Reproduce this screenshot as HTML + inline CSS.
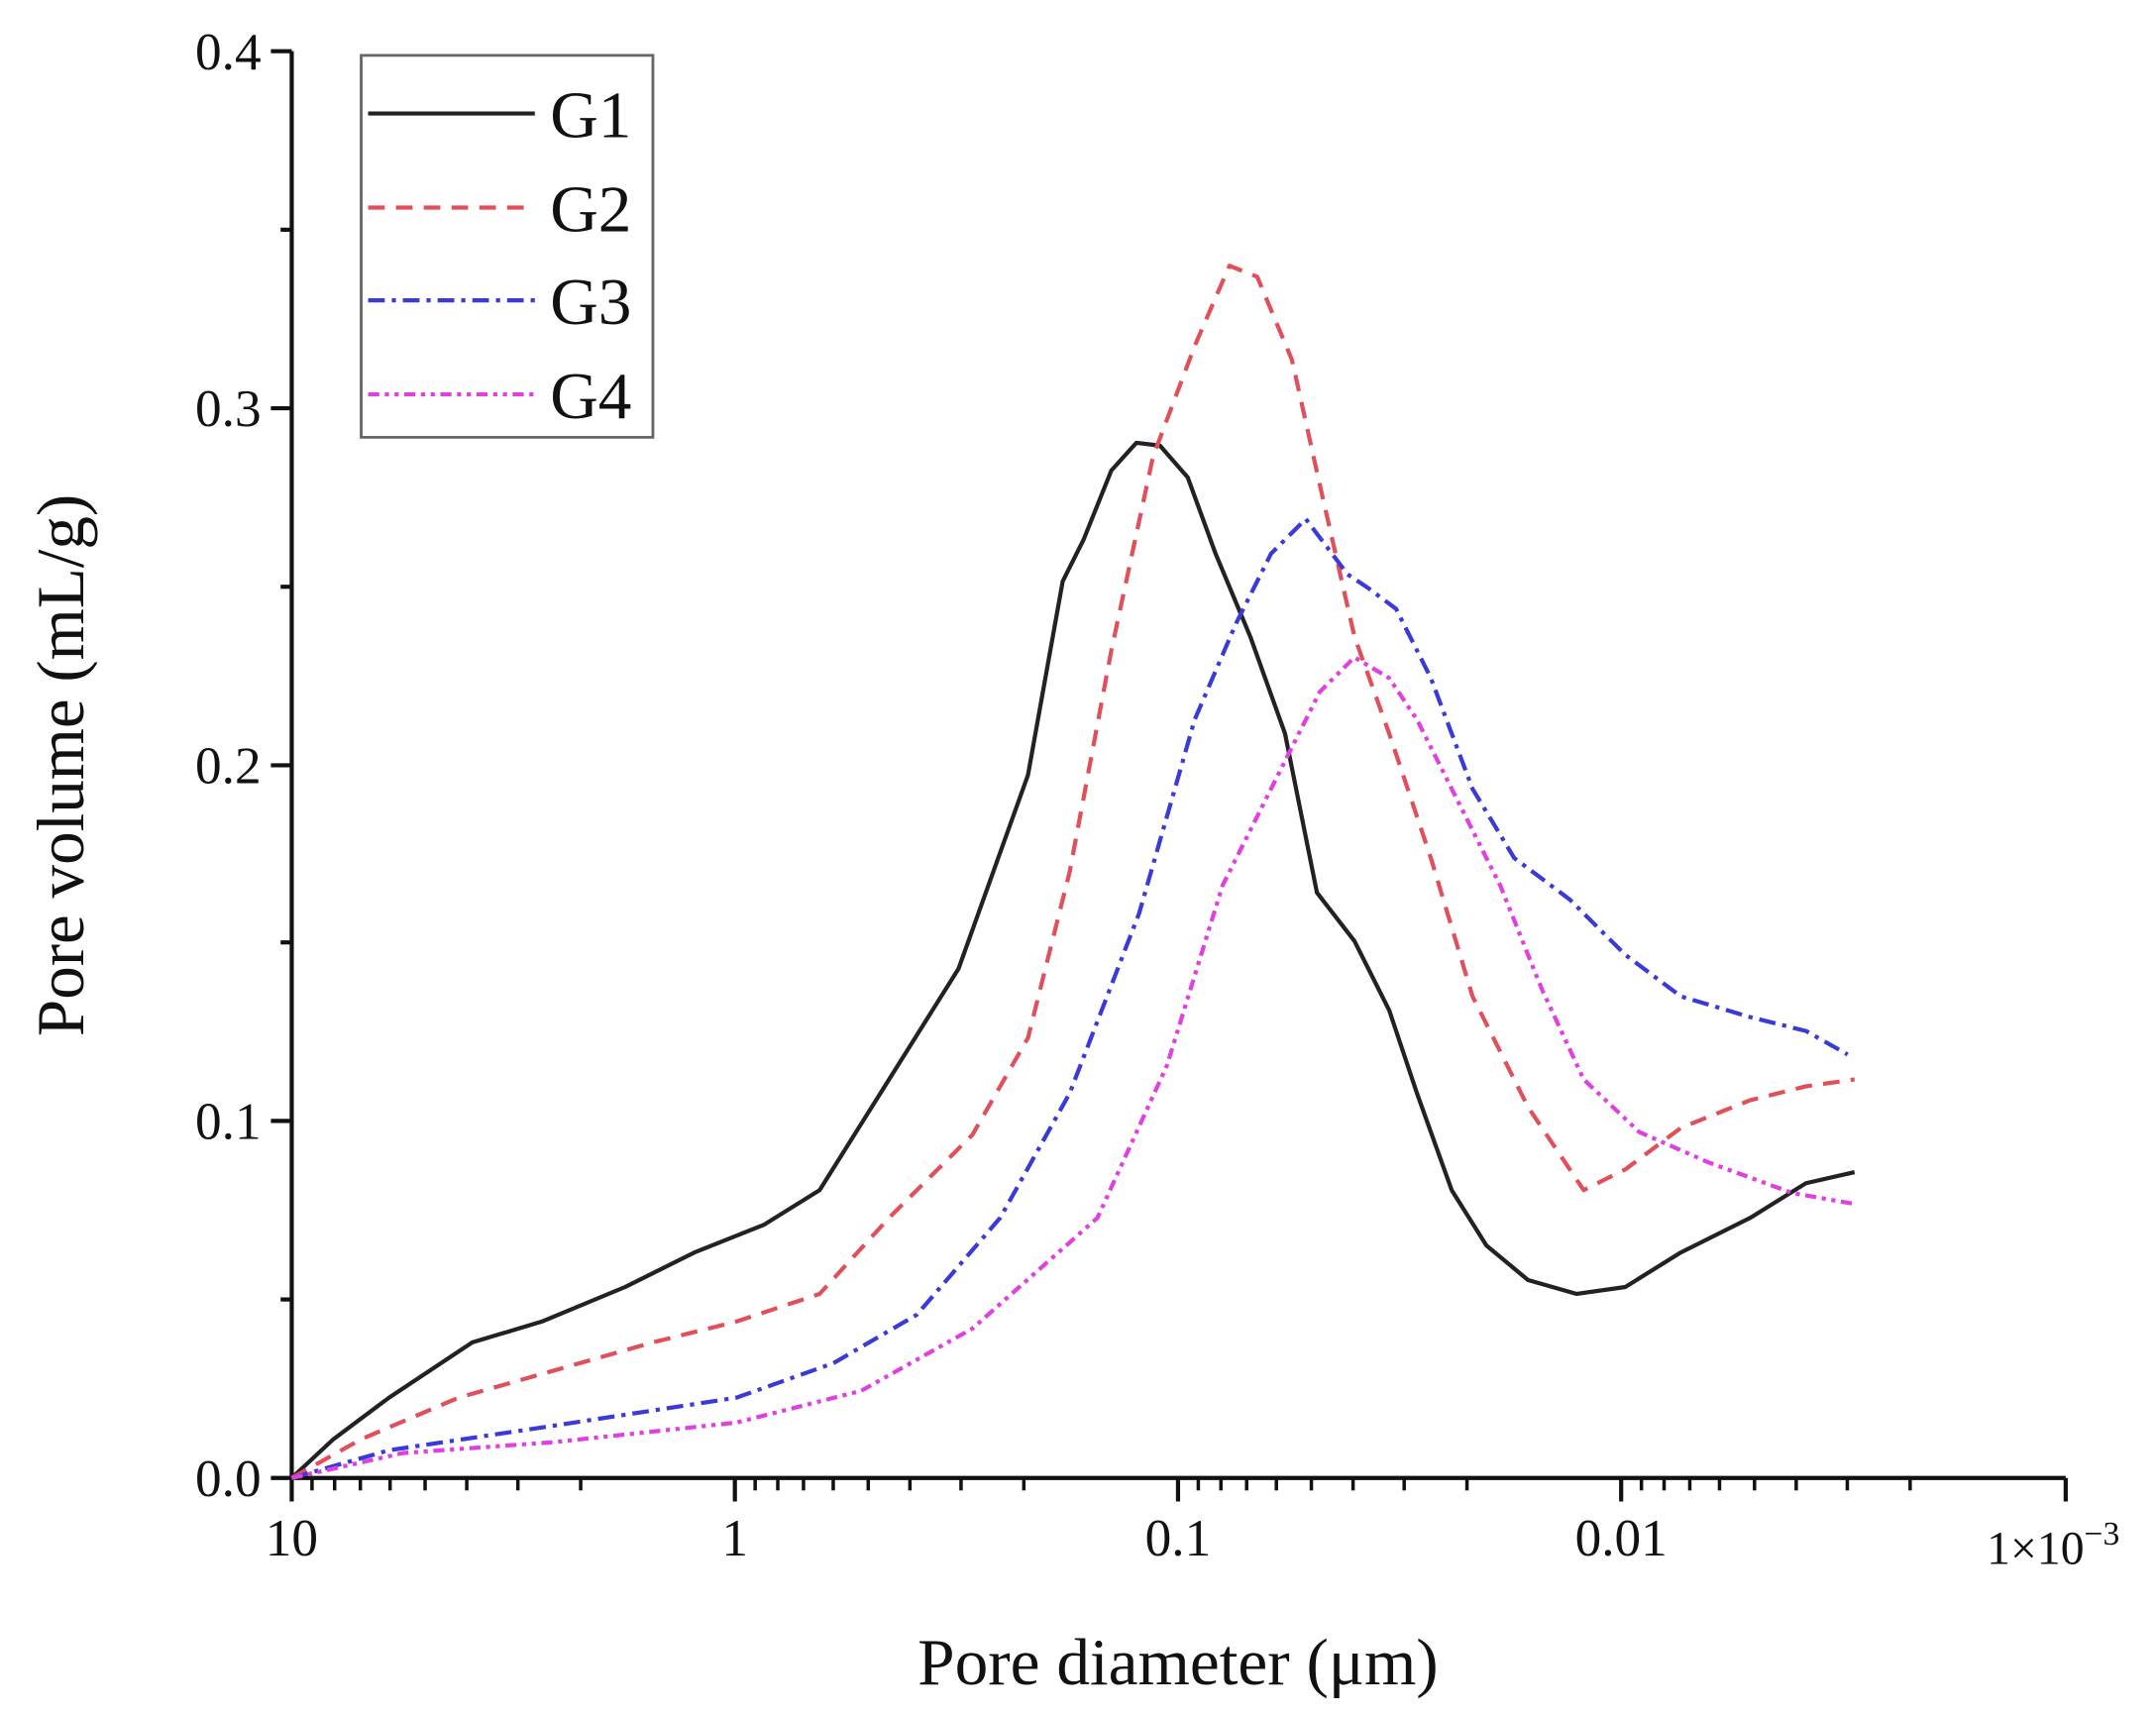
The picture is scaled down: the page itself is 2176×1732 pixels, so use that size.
<!DOCTYPE html>
<html><head><meta charset="utf-8"><style>
html,body{margin:0;padding:0;background:#fff;}
svg{display:block;}
text{font-family:"Liberation Serif",serif;fill:#111;}
</style></head><body>
<svg width="2176" height="1732" viewBox="0 0 1552 1240" preserveAspectRatio="none" xmlns="http://www.w3.org/2000/svg">
<g stroke="#111" stroke-width="3" fill="none">
<line x1="210" y1="37" x2="210" y2="1068"/>
<line x1="210" y1="1068" x2="1487" y2="1068"/>
<line x1="195" y1="1068" x2="210" y2="1068"/><line x1="195" y1="810" x2="210" y2="810"/><line x1="195" y1="553" x2="210" y2="553"/><line x1="195" y1="295" x2="210" y2="295"/><line x1="195" y1="37" x2="210" y2="37"/>
<line x1="202" y1="939" x2="210" y2="939"/><line x1="202" y1="681" x2="210" y2="681"/><line x1="202" y1="424" x2="210" y2="424"/><line x1="202" y1="166" x2="210" y2="166"/>
<line x1="210" y1="1068" x2="210" y2="1085"/><line x1="529" y1="1068" x2="529" y2="1085"/><line x1="848" y1="1068" x2="848" y2="1085"/><line x1="1167" y1="1068" x2="1167" y2="1085"/><line x1="1487" y1="1068" x2="1487" y2="1085"/>
</g>
<g stroke="#111" stroke-width="2.5">
<line x1="224.6" y1="1068" x2="224.6" y2="1077"/><line x1="240.9" y1="1068" x2="240.9" y2="1077"/><line x1="259.4" y1="1068" x2="259.4" y2="1077"/><line x1="280.8" y1="1068" x2="280.8" y2="1077"/><line x1="306" y1="1068" x2="306" y2="1077"/><line x1="336" y1="1068" x2="336" y2="1077"/><line x1="372.8" y1="1068" x2="372.8" y2="1077"/><line x1="418" y1="1068" x2="418" y2="1077"/>
<line x1="543.6" y1="1068" x2="543.6" y2="1077"/><line x1="559.9" y1="1068" x2="559.9" y2="1077"/><line x1="578.4" y1="1068" x2="578.4" y2="1077"/><line x1="599.8" y1="1068" x2="599.8" y2="1077"/><line x1="625" y1="1068" x2="625" y2="1077"/><line x1="655" y1="1068" x2="655" y2="1077"/><line x1="691.8" y1="1068" x2="691.8" y2="1077"/><line x1="737" y1="1068" x2="737" y2="1077"/>
<line x1="862.6" y1="1068" x2="862.6" y2="1077"/><line x1="878.9" y1="1068" x2="878.9" y2="1077"/><line x1="897.4" y1="1068" x2="897.4" y2="1077"/><line x1="918.8" y1="1068" x2="918.8" y2="1077"/><line x1="944" y1="1068" x2="944" y2="1077"/><line x1="974" y1="1068" x2="974" y2="1077"/><line x1="1010.8" y1="1068" x2="1010.8" y2="1077"/><line x1="1056" y1="1068" x2="1056" y2="1077"/>
<line x1="1181.6" y1="1068" x2="1181.6" y2="1077"/><line x1="1197.9" y1="1068" x2="1197.9" y2="1077"/><line x1="1216.4" y1="1068" x2="1216.4" y2="1077"/><line x1="1237.8" y1="1068" x2="1237.8" y2="1077"/><line x1="1263" y1="1068" x2="1263" y2="1077"/><line x1="1293" y1="1068" x2="1293" y2="1077"/><line x1="1329.8" y1="1068" x2="1329.8" y2="1077"/><line x1="1375" y1="1068" x2="1375" y2="1077"/>
</g>
<g font-size="38" text-anchor="end">
<text x="188" y="1081">0.0</text><text x="188" y="823">0.1</text><text x="188" y="566">0.2</text><text x="188" y="308">0.3</text><text x="188" y="50">0.4</text>
</g>
<g font-size="38" text-anchor="middle">
<text x="210" y="1124">10</text><text x="529" y="1124">1</text><text x="848" y="1124">0.1</text><text x="1167" y="1124">0.01</text>
<text x="1478" y="1130" font-size="34">1×10<tspan font-size="24" dy="-14">−3</tspan></text>
</g>
<text x="848" y="1217" font-size="48" text-anchor="middle">Pore diameter (μm)</text>
<text transform="translate(60,553) rotate(-90)" font-size="48" text-anchor="middle">Pore volume (mL/g)</text>
<g fill="none" stroke-width="3" stroke-linejoin="round" stroke-linecap="butt">
<polyline stroke="#222" points="210,1068 240,1040 280,1010 340,970 390,955 450,930 500,905 550,885 590,860 640,780 690,700 740,560 765,420 780,390 800,340 818,320 835,322 855,345 875,400 900,460 925,530 948,645 975,680 1000,730 1020,790 1045,860 1070,900 1100,925 1135,935 1170,930 1210,905 1260,880 1300,855 1335,847"/>
<polyline stroke="#e0505a" stroke-dasharray="12,8" points="210,1068 260,1040 330,1010 400,990 470,970 530,955 590,935 640,880 700,820 740,750 770,630 800,470 830,330 860,250 885,192 905,200 930,260 950,350 975,460 1000,530 1030,620 1060,720 1100,800 1140,860 1170,845 1210,815 1260,795 1300,785 1335,780"/>
<polyline stroke="#3a3ad8" stroke-dasharray="12,5,3,5" points="210,1068 280,1048 400,1030 530,1010 600,985 660,950 720,880 770,790 820,660 860,520 890,450 915,400 940,375 955,395 970,415 985,425 1005,440 1030,490 1060,570 1090,620 1130,650 1170,690 1210,720 1260,735 1300,745 1330,762"/>
<polyline stroke="#e040e0" stroke-dasharray="8,4,3,4,3,4" points="210,1068 290,1050 400,1042 530,1028 620,1005 700,960 790,880 840,770 880,640 920,560 950,500 975,475 1000,490 1020,520 1050,580 1080,640 1110,715 1140,780 1180,818 1230,840 1290,862 1335,870"/>
</g>
<rect x="260" y="40" width="210" height="276" fill="#fff" stroke="#666" stroke-width="2"/>
<g stroke-width="3">
<line x1="265" y1="82" x2="385" y2="82" stroke="#222"/>
<line x1="265" y1="150" x2="385" y2="150" stroke="#e0505a" stroke-dasharray="12,8"/>
<line x1="265" y1="217" x2="385" y2="217" stroke="#3a3ad8" stroke-dasharray="12,5,3,5"/>
<line x1="265" y1="285" x2="385" y2="285" stroke="#e040e0" stroke-dasharray="8,4,3,4,3,4"/>
</g>
<g font-size="48">
<text x="396" y="99">G1</text><text x="396" y="167">G2</text><text x="396" y="234">G3</text><text x="396" y="302">G4</text>
</g>
</svg>
</body></html>
